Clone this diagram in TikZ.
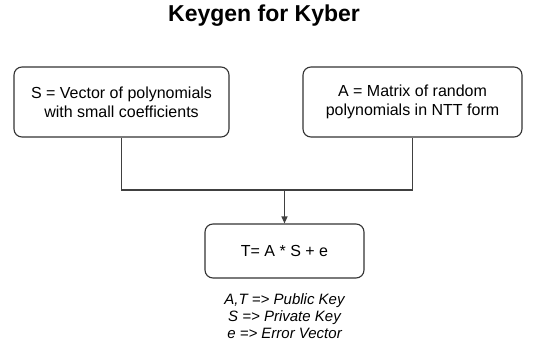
\documentclass[tikz,border=0pt]{standalone}
\usepackage{fontspec}
\setmainfont{Liberation Sans}
\usetikzlibrary{arrows.meta}
\begin{document}
\begin{tikzpicture}[x=1pt,y=-1pt,
  box/.style={draw=black!80, line width=1.1pt, rounded corners=8pt, align=center,
    font=\fontsize{16}{19}\selectfont, inner sep=0pt},
  link/.style={draw=black!75, line width=1.1pt},
  note/.style={align=center, font=\fontsize{15}{17}\selectfont\itshape}]
  \useasboundingbox (0,0) rectangle (540,348);
  % title
  \node[font=\fontsize{23}{26}\selectfont\bfseries] (title) at (264,16) {Keygen for Kyber};
  % input boxes
  \node[box, minimum width=215pt, minimum height=70pt] (S) at (121.5,102)
    {S = Vector of polynomials\\with small coefficients};
  \node[box, minimum width=219pt, minimum height=70pt] (A) at (412.5,102)
    {A = Matrix of random\\polynomials in NTT form};
  % result box
  \node[box, minimum width=159pt, minimum height=54pt] (T) at (284.5,251) {T= A * S + e};
  % legend under the result
  \node[note, anchor=north] (legend) at (284.5,290)
    {A,T => Public Key\\S => Private Key\\e => Error Vector};
  % connectors
  \coordinate (join) at (T.north |- 0,190);
  \draw[link] (S.south) |- (join) -| (A.south);
  \draw[link, -{Triangle[length=7pt,width=6pt]}] (join) -- (T.north);
\end{tikzpicture}
\end{document}
